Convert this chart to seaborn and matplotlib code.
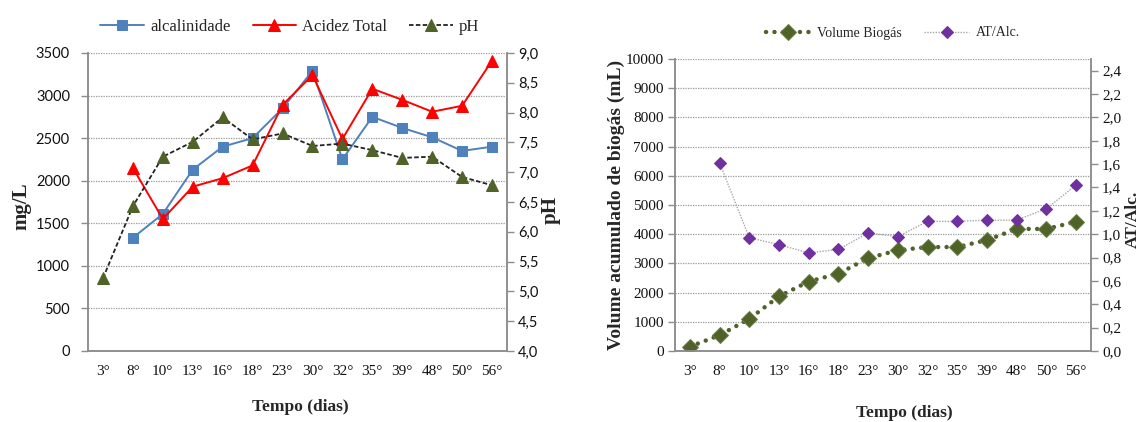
import numpy as np
import pandas as pd
import matplotlib
matplotlib.use("Agg")
import matplotlib.pyplot as plt
from matplotlib.ticker import FuncFormatter
import seaborn as sns

# ---------------- data ----------------
dias = ["3°", "8°", "10°", "13°", "16°", "18°", "23°", "30°", "32°", "35°", "39°", "48°", "50°", "56°"]
alcalinidade = [np.nan, 1330, 1610, 2130, 2400, 2500, 2850, 3290, 2250, 2750, 2620, 2510, 2350, 2400]
acidez_total = [np.nan, 2150, 1550, 1930, 2030, 2180, 2890, 3240, 2490, 3080, 2950, 2810, 2880, 3410]
ph = [5.22, 6.43, 7.26, 7.51, 7.92, 7.55, 7.65, 7.44, 7.48, 7.37, 7.24, 7.26, 6.92, 6.78]
volume_biogas = [150, 540, 1100, 1870, 2380, 2650, 3180, 3450, 3560, 3560, 3800, 4180, 4180, 4430]
at_alc = [np.nan, 1.61, 0.97, 0.91, 0.84, 0.87, 1.01, 0.98, 1.11, 1.11, 1.12, 1.12, 1.22, 1.42]

left_ticks = [0, 500, 1000, 1500, 2000, 2500, 3000, 3500]
ph_ticks = [4.0, 4.5, 5.0, 5.5, 6.0, 6.5, 7.0, 7.5, 8.0, 8.5, 9.0]
vol_ticks = [0, 1000, 2000, 3000, 4000, 5000, 6000, 7000, 8000, 9000, 10000]
ratio_ticks = [0.0, 0.2, 0.4, 0.6, 0.8, 1.0, 1.2, 1.4, 1.6, 1.8, 2.0, 2.2, 2.4]

df = pd.DataFrame({
    "pos": np.arange(len(dias)),
    "dia": dias,
    "alcalinidade": alcalinidade,
    "acidez": acidez_total,
    "ph": ph,
    "volume": volume_biogas,
    "ratio": at_alc,
})

sns.set_theme(style="white")
plt.rcParams["font.family"] = ["Liberation Serif", "DejaVu Serif"]
plt.rcParams["axes.unicode_minus"] = False

W, H = 1144, 422
fig = plt.figure(figsize=(W / 100, H / 100), dpi=100)


def rect(x0, y0, x1, y1):
    return [x0 / W, 1 - y1 / H, (x1 - x0) / W, (y1 - y0) / H]


ax1 = fig.add_axes(rect(88, 53, 507, 351))
ax1b = ax1.twinx()
ax2 = fig.add_axes(rect(675, 59, 1091, 351))
ax2b = ax2.twinx()

SPINE = "#8C8C8C"
GRID = "#9A9A9A"
comma = FuncFormatter(lambda v, p: f"{v:.1f}".replace(".", ","))

# ---------------- left chart ----------------
sns.lineplot(data=df, x="pos", y="alcalinidade", ax=ax1, color="#4F81BD", linewidth=1.4,
             marker="s", markersize=7, markeredgecolor="#4F81BD", sort=False, legend=False)
h_alc = ax1.lines[-1]
sns.lineplot(data=df, x="pos", y="acidez", ax=ax1, color="#FF0000", linewidth=1.4,
             marker="^", markersize=8, markeredgecolor="#FF0000", sort=False, legend=False)
h_ac = ax1.lines[-1]
sns.lineplot(data=df, x="pos", y="ph", ax=ax1b, color="#222222", linewidth=1.3,
             linestyle=(0, (2.5, 1.3)), marker="^", markersize=8,
             markerfacecolor="#4F6228", markeredgecolor="#4F6228", sort=False, legend=False)
h_ph = ax1b.lines[-1]

ax1.set_ylim(0, 3500)
ax1.set_yticks(left_ticks)
ax1b.set_ylim(4.0, 9.0)
ax1b.set_yticks(ph_ticks)
ax1b.yaxis.set_major_formatter(comma)

# ---------------- right chart ----------------
sns.lineplot(data=df, x="pos", y="volume", ax=ax2, color="#4F6228", linewidth=3.2,
             linestyle=(0, (0.01, 1.9)), dash_capstyle="round", marker="D", markersize=8,
             markerfacecolor="#4F6228", markeredgecolor="#6B7D4A", sort=False, legend=False)
h_vol = ax2.lines[-1]
sns.lineplot(data=df, x="pos", y="ratio", ax=ax2b, color="#A6A6A6", linewidth=1.0,
             linestyle=(0, (1, 1)), marker="D", markersize=6.5,
             markerfacecolor="#7030A0", markeredgecolor="#7030A0", sort=False, legend=False)
h_rat = ax2b.lines[-1]

ax2.set_ylim(0, 10000)
ax2.set_yticks(vol_ticks)
ax2b.set_ylim(0, 2.5)
ax2b.set_yticks(ratio_ticks)
ax2b.yaxis.set_major_formatter(comma)

# ---------------- common styling ----------------
for ax, axb in ((ax1, ax1b), (ax2, ax2b)):
    ax.set_xlim(-0.5, len(dias) - 0.5)
    ax.set_xticks(df["pos"])
    ax.set_xticklabels(dias, fontsize=11)
    ax.set_xticks(np.arange(-0.5, len(dias), 1.0), minor=True)
    ax.tick_params(axis="x", which="major", length=0, pad=10, colors="#111111")
    ax.tick_params(axis="x", which="minor", length=5, width=1, color=SPINE, direction="out")
    ax.tick_params(axis="y", which="major", length=5, width=1, color=SPINE, direction="out",
                   left=True, labelcolor="#111111")
    axb.tick_params(axis="y", which="major", length=5, width=1, color=SPINE, direction="out",
                    right=True, labelcolor="#111111", pad=3)
    ax.yaxis.grid(True, linestyle=(0, (1, 1)), color=GRID, linewidth=0.9)
    ax.xaxis.grid(False)
    for a in (ax, axb):
        a.spines["top"].set_visible(False)
        for s in ("left", "right", "bottom"):
            a.spines[s].set_color(SPINE)
            a.spines[s].set_linewidth(1.1)
        a.set_xlabel("")
        a.set_ylabel("")
    ax.set_axisbelow(True)

ax1.tick_params(axis="y", pad=8)
for lab in ax1.get_yticklabels() + ax1b.get_yticklabels():
    lab.set_fontfamily("Lato")
    lab.set_fontsize(10.5)
ax2.tick_params(axis="y", pad=3)
for lab in ax2.get_yticklabels() + ax2b.get_yticklabels():
    lab.set_fontsize(11)

# ---------------- labels ----------------
fig.text(21 / W, 1 - 206 / H, "mg/L", rotation=90, ha="center", va="center",
         fontsize=15, fontweight="bold")
fig.text(551 / W, 1 - 210 / H, "pH", rotation=90, ha="center", va="center",
         fontsize=15, fontweight="bold")
fig.text(300 / W, 1 - 407 / H, "Tempo (dias)", ha="center", va="center",
         fontsize=12.5, fontweight="bold")
fig.text(616 / W, 1 - 205 / H, "Volume acumulado de biogás (mL)", rotation=90,
         ha="center", va="center", fontsize=14, fontweight="bold")
fig.text(1133 / W, 1 - 219 / H, "AT/Alc.", rotation=90, ha="center", va="center",
         fontsize=12.5, fontweight="bold")
fig.text(904 / W, 1 - 413 / H, "Tempo (dias)", ha="center", va="center",
         fontsize=12.5, fontweight="bold")

# ---------------- legends ----------------
fig.legend([h_alc, h_ac, h_ph], ["alcalinidade", "Acidez Total", "pH"],
           loc="center", bbox_to_anchor=(290 / W, 1 - 27 / H), ncol=3, frameon=False,
           fontsize=12, handlelength=2.6, columnspacing=1.3, handletextpad=0.4,
           borderpad=0, borderaxespad=0)
fig.legend([h_vol, h_rat], ["Volume Biogás", "AT/Alc."],
           loc="center", bbox_to_anchor=(893 / W, 1 - 33 / H), ncol=2, frameon=False,
           fontsize=10, handlelength=3.2, columnspacing=1.6, handletextpad=0.5,
           borderpad=0, borderaxespad=0)

fig.savefig("out.png", dpi=100)
